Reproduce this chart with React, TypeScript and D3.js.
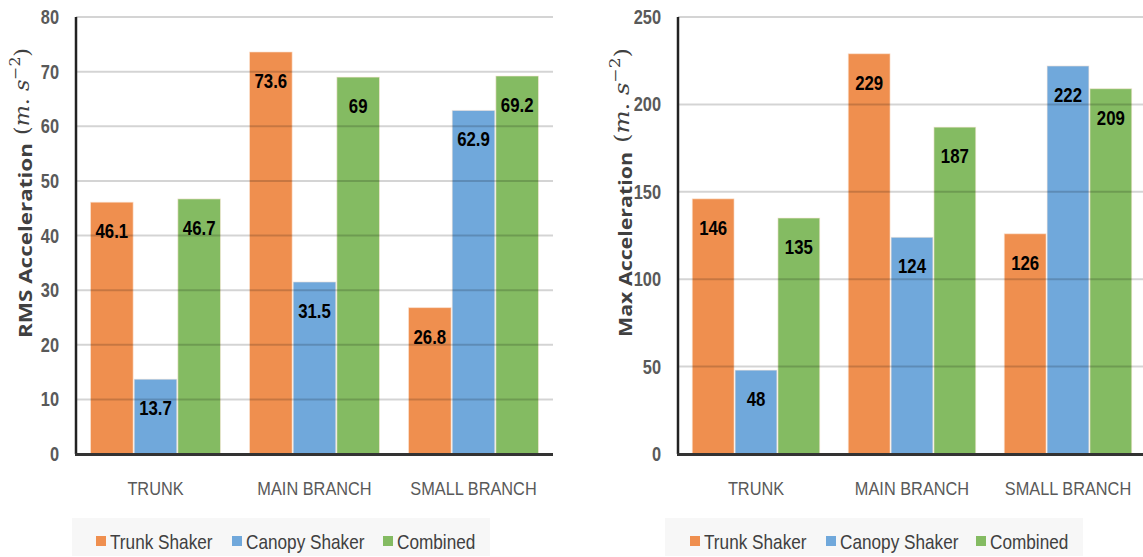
import React from "react";
import * as d3 from "d3";

const categories = ["TRUNK", "MAIN BRANCH", "SMALL BRANCH"];
const seriesNames = ["Trunk Shaker", "Canopy Shaker", "Combined"];
const seriesColors = ["#EF8F4F", "#70A8DB", "#84BB62"];

const rmsTrunk = [46.1, 73.6, 26.8];
const rmsCanopy = [13.7, 31.5, 62.9];
const rmsCombined = [46.7, 69, 69.2];
const rmsTicks = [0, 10, 20, 30, 40, 50, 60, 70, 80];

const maxTrunk = [146, 229, 126];
const maxCanopy = [48, 124, 222];
const maxCombined = [135, 187, 209];
const maxTicks = [0, 50, 100, 150, 200, 250];

const SANS = "'Liberation Sans', Arial, sans-serif";
const SERIF = "'DejaVu Serif', serif";

function NText(props: {
  x: number;
  y: number;
  sx: number;
  anchor?: string;
  size: number;
  weight?: string;
  fill: string;
  children: React.ReactNode;
}) {
  return (
    <text
      transform={`translate(${props.x},${props.y}) scale(${props.sx},1)`}
      textAnchor={props.anchor || "start"}
      fontFamily={SANS}
      fontSize={props.size}
      fontWeight={props.weight || "normal"}
      fill={props.fill}
    >
      {props.children}
    </text>
  );
}

type PanelProps = {
  x0: number;
  w: number;
  yMax: number;
  ticks: number[];
  series: number[][];
  title: string;
  titleX: number;
  titleStart: number;
  titleLen: number;
  mathStart: number;
  mathLen: number;
  legendX: number;
  legendW: number;
  swatchX: number[];
};

function Panel(p: PanelProps) {
  const top = 17;
  const bottom = 454;
  const y = d3.scaleLinear().domain([0, p.yMax]).range([bottom, top]);
  const xb = d3
    .scaleBand<string>()
    .domain(categories)
    .range([p.x0, p.x0 + p.w])
    .paddingInner(0.176)
    .paddingOuter(0.088);
  const xs = d3.scaleBand<string>().domain(seriesNames).range([0, xb.bandwidth()]);
  return (
    <g>
      {categories.map((c, ci) =>
        seriesNames.map((s, si) => {
          const v = p.series[si][ci];
          const bx = (xb(c) as number) + (xs(s) as number);
          return (
            <rect
              key={c + s}
              x={bx + 0.5}
              y={y(v)}
              width={xs.bandwidth() - 1}
              height={bottom - y(v)}
              fill={seriesColors[si]}
              stroke="#fbe9dc"
              strokeOpacity={0.6}
              strokeWidth={1}
            />
          );
        })
      )}
      {p.ticks
        .filter((t) => t > 0)
        .map((t) => (
          <line
            key={t}
            x1={p.x0}
            x2={p.x0 + p.w}
            y1={y(t)}
            y2={y(t)}
            stroke="#000"
            strokeOpacity={0.17}
            strokeWidth={2}
          />
        ))}
      {categories.map((c, ci) =>
        seriesNames.map((s, si) => {
          const v = p.series[si][ci];
          const cx = (xb(c) as number) + (xs(s) as number) + xs.bandwidth() / 2;
          return (
            <NText
              key={"l" + c + s}
              x={cx}
              y={y(v) + 36}
              sx={0.8}
              anchor="middle"
              size={21}
              weight="bold"
              fill="#000"
            >
              {String(v)}
            </NText>
          );
        })
      )}
      <line x1={p.x0} x2={p.x0} y1={top} y2={bottom} stroke="#222" strokeWidth={2.5} />
      <line x1={p.x0 - 1} x2={p.x0 + p.w} y1={bottom + 0.5} y2={bottom + 0.5} stroke="#333" strokeWidth={3} />
      {p.ticks.map((t) => (
        <NText
          key={"t" + t}
          x={p.x0 - 17}
          y={y(t) + 7}
          sx={0.82}
          anchor="end"
          size={20}
          weight="bold"
          fill="#595959"
        >
          {t}
        </NText>
      ))}
      {categories.map((c) => (
        <NText
          key={"c" + c}
          x={(xb(c) as number) + xb.bandwidth() / 2}
          y={495}
          sx={0.86}
          anchor="middle"
          size={19}
          fill="#595959"
        >
          {c}
        </NText>
      ))}
      <text
        transform={`translate(${p.titleX},${p.titleStart}) rotate(-90)`}
        textAnchor="start"
        fill="#404040"
        fontFamily="'Open Sans', sans-serif"
        fontWeight="bold"
        fontSize={18}
        textLength={p.titleLen}
        lengthAdjust="spacingAndGlyphs"
      >
        {p.title}
      </text>
      <text
        transform={`translate(${p.titleX - 3},${p.mathStart}) rotate(-90)`}
        textAnchor="start"
        fill="#404040"
        fontFamily={SERIF}
        fontSize={20}
        textLength={p.mathLen}
        lengthAdjust="spacingAndGlyphs"
      >
        <tspan>{"("}</tspan>
        <tspan fontStyle="italic">m</tspan>
        <tspan>{". "}</tspan>
        <tspan fontStyle="italic">s</tspan>
        <tspan fontSize={14} dy={-9}>{"\u22122"}</tspan>
        <tspan dy={9}>{")"}</tspan>
      </text>
      <rect x={p.legendX} y={518} width={p.legendW} height={38} fill="#f7f7f7" />
      {seriesNames.map((s, si) => (
        <g key={"lg" + s}>
          <rect x={p.swatchX[si]} y={536} width={10} height={10} fill={seriesColors[si]} />
          <NText x={p.swatchX[si] + 14} y={549} sx={0.86} size={20} fill="#404040">
            {s}
          </NText>
        </g>
      ))}
    </g>
  );
}

export default function App() {
  return (
    <svg
      width={1143}
      height={557}
      style={{ position: "absolute", left: 0, top: 0, background: "#fff" }}
    >
      <rect width={1143} height={557} fill="#fff" />
      <Panel
        x0={76}
        w={477}
        yMax={80}
        ticks={rmsTicks}
        series={[rmsTrunk, rmsCanopy, rmsCombined]}
        title="RMS Acceleration"
        titleX={32}
        titleStart={338}
        titleLen={195}
        mathStart={135}
        mathLen={87}
        legendX={72}
        legendW={418}
        swatchX={[96, 232, 383]}
      />
      <Panel
        x0={678}
        w={468}
        yMax={250}
        ticks={maxTicks}
        series={[maxTrunk, maxCanopy, maxCombined]}
        title="Max Acceleration"
        titleX={632}
        titleStart={337}
        titleLen={185}
        mathStart={143}
        mathLen={95}
        legendX={665}
        legendW={418}
        swatchX={[690, 826, 976]}
      />
    </svg>
  );
}
